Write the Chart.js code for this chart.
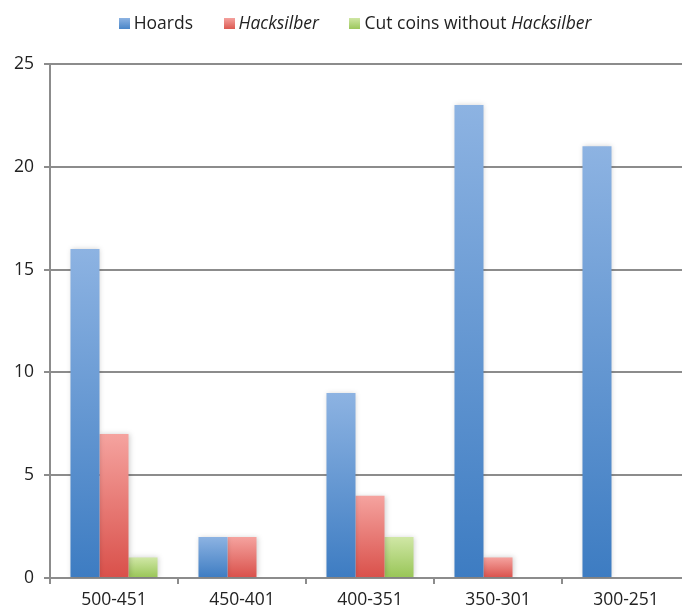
<!DOCTYPE html>
<html><head><meta charset="utf-8">
<script src="https://cdn.jsdelivr.net/npm/chart.js@4/dist/chart.umd.min.js"></script>
<style>
html,body{margin:0;padding:0;background:#fff;overflow:hidden;width:682px;height:612px;}
#wrap{position:relative;width:692px;height:612px;}
#legend{position:absolute;top:10px;left:14px;width:682px;text-align:center;font-family:"Open Sans",sans-serif;font-size:17.5px;color:#222;white-space:nowrap;}
#legend span.item{display:inline-block;margin:0 13px;}
#legend i.sw{display:inline-block;width:11px;height:11px;margin-right:4px;vertical-align:0px;}
</style></head>
<body>
<div id="wrap">
<canvas id="c" width="692" height="612"></canvas>
<div id="legend"><span class="item"><i class="sw" style="background:linear-gradient(#8db3e2,#4a86c8)"></i>Hoards</span> <span class="item"><i class="sw" style="background:linear-gradient(#f4a19d,#dc5a52)"></i><em>Hacksilber</em></span> <span class="item"><i class="sw" style="background:linear-gradient(#cfe6a4,#9cc75c)"></i>Cut coins without <em>Hacksilber</em></span></div>
</div>
<script>
const categories = ["500-451","450-401","400-351","350-301","300-251"];
const hoards = [16,2,9,23,21];
const hacksilber = [7,2,4,1,0];
const cutCoins = [1,0,2,0,0];
const yTicks = [0,5,10,15,20,25];

function grad(top, bottom){
  return function(ctx){
    const chart = ctx.chart;
    if(!chart.chartArea || ctx.parsed === undefined) return bottom;
    const y = chart.scales.y;
    const v = ctx.parsed.y;
    const y0 = y.getPixelForValue(0), y1 = y.getPixelForValue(v);
    if (y0 === y1) return bottom;
    const g = chart.ctx.createLinearGradient(0, y1, 0, y0);
    g.addColorStop(0, top);
    g.addColorStop(1, bottom);
    return g;
  };
}

const shadowPlugin = {
  id:'shadow',
  beforeDatasetsDraw(chart){
    const c = chart.ctx; c.save();
    c.shadowColor='rgba(0,0,0,0.18)'; c.shadowBlur=5; c.shadowOffsetX=1; c.shadowOffsetY=0;
  },
  afterDatasetsDraw(chart){ chart.ctx.restore(); }
};

const tickFont = {family:'"Open Sans", sans-serif', size:17.5};

new Chart(document.getElementById('c'), {
  type:'bar',
  data:{
    labels:categories,
    datasets:[
      {label:'Hoards', data:hoards, backgroundColor:grad('#8db3e2','#3d7cc2')},
      {label:'Hacksilber', data:hacksilber, backgroundColor:grad('#f5a39f','#d9504a')},
      {label:'Cut coins without Hacksilber', data:cutCoins, backgroundColor:grad('#d0e7a6','#98c556')}
    ]
  },
  plugins:[shadowPlugin],
  options:{
    responsive:false, animation:false, devicePixelRatio:1,
    layout:{padding:{top:64,right:2,left:0,bottom:0}},
    plugins:{legend:{display:false}, tooltip:{enabled:false}},
    datasets:{bar:{categoryPercentage:0.68, barPercentage:1.0}},
    scales:{
      x:{
        grid:{display:true, offset:true, drawOnChartArea:false, color:'#8c8c8c', lineWidth:2, tickLength:6},
        border:{display:true, color:'#8c8c8c', width:2},
        ticks:{color:'#222', font:tickFont, padding:6},
        afterFit(s){ s.height = 34; }
      },
      y:{
        min:0, max:25,
        afterBuildTicks(s){ s.ticks = yTicks.map(v=>({value:v})); },
        grid:{color:'#8c8c8c', lineWidth:2, tickLength:6},
        border:{display:true, color:'#8c8c8c', width:2},
        ticks:{color:'#222', font:tickFont, padding:10},
        afterFit(s){ s.width = 50; }
      }
    }
  }
});
</script>
</body></html>
